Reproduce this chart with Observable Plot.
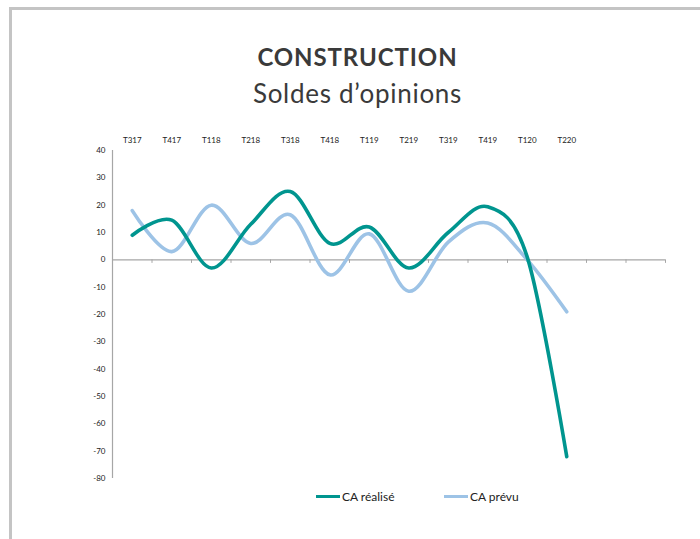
<!DOCTYPE html>
<html>
<head>
<meta charset="utf-8">
<script src="https://cdn.jsdelivr.net/npm/d3@7"></script>
<script src="https://cdn.jsdelivr.net/npm/@observablehq/plot@0.6"></script>
<style>
  html, body { margin: 0; padding: 0; background: #fff; }
  body { width: 700px; height: 539px; position: relative; overflow: hidden; font-family: Lato, "Open Sans", sans-serif; }
  #frame { position: absolute; left: 9px; top: 7px; width: 720px; height: 529px; border-left: 3px solid #c4c4c4; border-top: 3px solid #c4c4c4; border-bottom: 1px solid #ececec; }
  #chart { position: absolute; left: 0; top: 0; }
  .title { position: absolute; left: 0; width: 715px; text-align: center; color: #3a3a3a; }
  #t1 { top: 42px; font-size: 24px; font-weight: 700; letter-spacing: 0.9px; }
  #t2 { top: 77px; font-size: 26px; font-weight: 400; letter-spacing: 0.7px; }
  .leg { position: absolute; top: 489px; font-size: 12px; color: #222; display: flex; align-items: center; }
  .sw { width: 24px; height: 3px; margin-right: 2px; }
</style>
</head>
<body>
<div id="frame"></div>
<div id="chart"></div>
<div class="title" id="t1">CONSTRUCTION</div>
<div class="title" id="t2">Soldes d’opinions</div>
<div id="legend"></div>
<script>
// Quarters (labelled slots) followed by two unlabelled empty slots on the category axis
const quarters = ["T317", "T417", "T118", "T218", "T318", "T418", "T119", "T219", "T319", "T419", "T120", "T220"];
const emptySlots = ["", ""];
const seriesNames = ["CA réalisé", "CA prévu"];
const caRealise = [9, 14.5, -3, 13, 25, 6, 12, -3, 10, 19.4, 1, -72];
const caPrevu = [18, 3, 20, 6, 16.5, -5.5, 9.5, -11.5, 6.5, 13.5, 0, -19];
const yTicks = [40, 30, 20, 10, 0, -10, -20, -30, -40, -50, -60, -70, -80];
const colors = ["#00958f", "#9dc3e6"];

const nSlots = quarters.length + emptySlots.length;
const rows = [];
quarters.forEach((q, i) => {
  rows.push({slot: i + 0.5, value: caRealise[i], series: seriesNames[0]});
  rows.push({slot: i + 0.5, value: caPrevu[i], series: seriesNames[1]});
});
const labelPos = quarters.map((q, i) => i + 0.5);
const boundaries = d3.range(1, nSlots + 1);

const chart = Plot.plot({
  width: 700,
  height: 539,
  marginTop: 150,
  marginBottom: 61,
  marginLeft: 112,
  marginRight: 35,
  style: {fontFamily: "Lato, 'Open Sans', sans-serif", fontSize: "8px", color: "#222", background: "transparent"},
  x: {type: "linear", domain: [0, nSlots], label: null},
  y: {domain: [-80, 40], label: null},
  color: {domain: seriesNames, range: colors},
  marks: [
    Plot.axisX({anchor: "top", ticks: labelPos, tickFormat: d => quarters[Math.floor(d)], tickSize: 0, tickPadding: 8, fontSize: 8, label: null}),
    Plot.axisY({ticks: yTicks, tickFormat: d => String(d), tickSize: 0, tickPadding: 7, fontSize: 8, label: null}),
    Plot.ruleX([0], {y1: -80, y2: 40, stroke: "#a6a6a6", strokeWidth: 1.2}),
    Plot.ruleY([0], {x1: 0, x2: nSlots, stroke: "#a6a6a6", strokeWidth: 1.2}),
    Plot.ruleX(boundaries, {y1: 0, y2: -1.3, stroke: "#a6a6a6", strokeWidth: 1}),
    Plot.line(rows.filter(d => d.series === seriesNames[1]), {x: "slot", y: "value", stroke: "series", strokeWidth: 3.6, curve: "cardinal"}),
    Plot.line(rows.filter(d => d.series === seriesNames[0]), {x: "slot", y: "value", stroke: "series", strokeWidth: 3.6, curve: "cardinal"})
  ]
});
document.getElementById("chart").appendChild(chart);

const legend = document.getElementById("legend");
const legX = [316, 444];
seriesNames.forEach((name, i) => {
  const item = document.createElement("div");
  item.className = "leg";
  item.style.left = legX[i] + "px";
  const sw = document.createElement("div");
  sw.className = "sw";
  sw.style.background = colors[i];
  item.appendChild(sw);
  const t = document.createElement("span");
  t.textContent = name;
  item.appendChild(t);
  legend.appendChild(item);
});
</script>
</body>
</html>
